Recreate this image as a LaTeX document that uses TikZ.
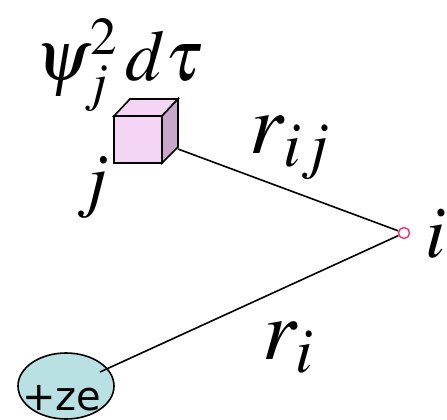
\documentclass[tikz,border=0pt]{standalone}
\usepackage{mathptmx}
\usepackage{fontspec}
\newfontfamily\zefont{DejaVu Sans}
\usetikzlibrary{shapes.geometric}
\definecolor{cubepink}{HTML}{F5D5F5}
\definecolor{cubeside}{HTML}{C8A8C8}
\definecolor{chargeblue}{HTML}{B9E1E3}
\definecolor{elecred}{HTML}{F0306F}
\begin{document}
\begin{tikzpicture}[x=1pt,y=-1pt,line width=1.6pt,
  biglabel/.style={font=\fontsize{#1}{#1}\selectfont,inner sep=0pt},
  electron/.style={circle,draw=elecred,line width=1.4pt,minimum size=11pt,inner sep=0pt},
  nucleus/.style={ellipse,draw,fill=chargeblue,minimum width=96pt,minimum height=66pt,inner sep=0pt}]
\useasboundingbox (0,0) rectangle (447,420);
\filldraw[fill=cubepink] (114,116) rectangle (162,163);
\filldraw[fill=cubepink] (114,116)--(130,99)--(178,99)--(162,116)--cycle;
\filldraw[fill=cubeside] (162,116)--(178,99)--(178,147)--(162,163)--cycle;
\coordinate (cube) at (178,149);
\node[electron] (i) at (404,233) {};
\node[nucleus] (ze) at (66,386) {};
\node[font=\zefont\fontsize{40}{40}\selectfont,inner sep=0pt] (zetext) at (62,398) {+ze};
\coordinate (zeend) at (100,372);
\draw (cube)--(i);
\draw (zeend)--(i);
\node[biglabel=72] (vol) at (119,65) {$\psi_j^2\,d\tau$};
\node[biglabel=72] (jlab) at (93,188) {$j$};
\node[biglabel=86] (rij) at (290,148) {$r_{ij}$};
\node[biglabel=86] (ri) at (288,348) {$r_i$};
\node[biglabel=74] (ilab) at (436,234) {$i$};
\end{tikzpicture}
\end{document}
